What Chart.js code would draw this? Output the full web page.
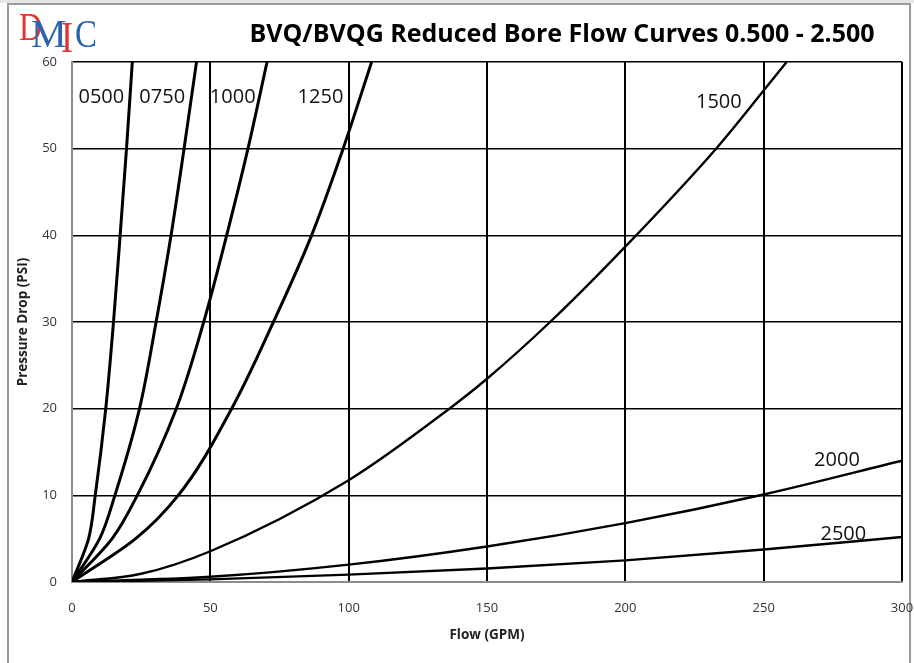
<!DOCTYPE html>
<html>
<head>
<meta charset="utf-8">
<title>BVQ/BVQG Reduced Bore Flow Curves</title>
<script src="https://cdn.jsdelivr.net/npm/chart.js@4.4.1/dist/chart.umd.min.js"></script>
<style>
  html, body { margin: 0; padding: 0; background: #fff; }
  #wrap { width: 914px; height: 663px; }
</style>
</head>
<body>
<div id="wrap"><canvas id="flowChart" width="914" height="663"></canvas></div>
<script>
// Valve sizes (curve names)
var sizes = ['0500', '0750', '1000', '1250', '1500', '2000', '2500'];

// Flow (GPM) and pressure drop (PSI), one pair per size
var flow0500 = [0, 6.0, 8.4, 12.2, 15.0, 17.4, 19.7, 21.8];
var psi0500  = [0, 5, 10, 20, 30, 40, 50, 60];

var flow0750 = [0, 10.0, 15.5, 24.4, 30.4, 35.8, 40.5, 45.0];
var psi0750  = [0, 5, 10, 20, 30, 40, 50, 60];

var flow1000 = [0, 14.5, 23.6, 37.7, 47.6, 55.9, 63.6, 70.5];
var psi1000  = [0, 5, 10, 20, 30, 40, 50, 60];

var flow1250 = [0, 23.0, 38.4, 57.7, 72.8, 86.6, 98.0, 108.3];
var psi1250  = [0, 5, 10, 20, 30, 40, 50, 60];

var flow1500 = [0, 25, 50, 100, 136.4, 150, 172.8, 200, 232.8, 250, 258.3];
var psi1500  = [0, 0.95, 3.55, 11.75, 20, 23.45, 30, 38.7, 50, 56.7, 60];

var flow2000 = [0, 50, 100, 150, 200, 250, 300];
var psi2000  = [0, 0.6, 2.0, 4.1, 6.8, 10.1, 14.0];

var flow2500 = [0, 50, 100, 150, 200, 250, 300];
var psi2500  = [0, 0.3, 0.85, 1.55, 2.5, 3.75, 5.2];

// Axis ticks
var xTicks = [0, 50, 100, 150, 200, 250, 300];
var yTicks = [0, 10, 20, 30, 40, 50, 60];

var flows = [flow0500, flow0750, flow1000, flow1250, flow1500, flow2000, flow2500];
var psis  = [psi0500, psi0750, psi1000, psi1250, psi1500, psi2000, psi2500];

// where each size name sits (in chart units)
var labelSpots = [[10.6, 55.9], [32.6, 55.9], [58.1, 55.9], [89.8, 55.9], [233.8, 55.4], [276.5, 14.1], [278.8, 5.5]];

function pairs(xs, ys) {
    var out = [];
    for (var i = 0; i < xs.length; i++) out.push({x: xs[i], y: ys[i]});
    return out;
}

// steep curves are smoothed along the pressure axis, flat ones along flow
var datasets = sizes.map(function(name, i) {
    return {
        label: name,
        data: pairs(flows[i], psis[i]),
        indexAxis: i < 4 ? 'y' : 'x',
        borderColor: '#000',
        borderWidth: i < 4 ? 3 : 2.4,
        pointRadius: 0,
        pointHoverRadius: 0,
        cubicInterpolationMode: 'monotone',
        fill: false
    };
});

var decorations = {
    id: 'decorations',
    beforeDraw: function(chart) {
        var ctx = chart.ctx;
        ctx.save();
        ctx.fillStyle = '#fff';
        ctx.fillRect(0, 0, chart.width, chart.height);
        // faint band on top + frame
        ctx.fillStyle = '#e6e6e6';
        ctx.fillRect(0, 0, chart.width, 3);
        ctx.strokeStyle = '#9a9a9a';
        ctx.lineWidth = 2;
        ctx.beginPath();
        ctx.moveTo(8, chart.height);
        ctx.lineTo(8, 4);
        ctx.lineTo(910, 4);
        ctx.lineTo(910, chart.height);
        ctx.stroke();
        ctx.restore();
    },
    afterDatasetsDraw: function(chart) {
        var ctx = chart.ctx;
        var xs = chart.scales.x, ys = chart.scales.y;
        ctx.save();
        ctx.font = '20px "Open Sans"';
        ctx.fillStyle = '#111';
        ctx.textAlign = 'center';
        ctx.textBaseline = 'middle';
        sizes.forEach(function(name, i) {
            ctx.fillText(name, xs.getPixelForValue(labelSpots[i][0]), ys.getPixelForValue(labelSpots[i][1]));
        });
        ctx.restore();
    },
    afterDraw: function(chart) {
        var ctx = chart.ctx;
        ctx.save();
        // title
        ctx.font = 'bold 25px "Open Sans"';
        ctx.fillStyle = '#000';
        ctx.textAlign = 'center';
        ctx.textBaseline = 'alphabetic';
        ctx.fillText('BVQ/BVQG Reduced Bore Flow Curves 0.500 - 2.500', 562, 42, 630);
        // logo
        ctx.textAlign = 'left';
        ctx.font = '40px "Liberation Serif"';
        ctx.fillStyle = '#e2352f';
        ctx.fillText('D', 19, 40, 23);
        ctx.fillStyle = '#2a63b0';
        ctx.fillText('M', 31, 47, 42);
        ctx.fillStyle = '#e2352f';
        ctx.font = '44px "Liberation Serif"';
        ctx.fillText('I', 61, 52, 12);
        ctx.fillStyle = '#2a63b0';
        ctx.font = '40px "Liberation Serif"';
        ctx.fillText('C', 75, 47, 22);
        ctx.restore();
    }
};

var flowChart = new Chart(document.getElementById('flowChart'), {
    type: 'line',
    data: { datasets: datasets },
    options: {
        responsive: false,
        animation: false,
        layout: { padding: { left: 0, right: 12, top: 62, bottom: 0 } },
        plugins: {
            legend: { display: false },
            tooltip: { enabled: false }
        },
        scales: {
            x: {
                type: 'linear',
                min: 0,
                max: 300,
                afterBuildTicks: function(scale) {
                    scale.ticks = xTicks.map(function(v) { return {value: v}; });
                },
                afterFit: function(scale) {
                    scale.height = 81;
                    scale.paddingRight = 11; // let "300" hang past the plot edge
                },
                ticks: { padding: 18, color: '#333', font: { family: 'Open Sans', size: 13 } },
                grid: { color: '#000', lineWidth: 2, drawTicks: false },
                border: { color: '#8c8c8c', width: 2 },
                title: {
                    display: true,
                    text: 'Flow (GPM)',
                    color: '#222',
                    font: { family: 'Open Sans', size: 13.5, weight: 'bold' },
                    padding: { top: 0, bottom: 20 }
                }
            },
            y: {
                type: 'linear',
                min: 0,
                max: 60,
                afterBuildTicks: function(scale) {
                    scale.ticks = yTicks.map(function(v) { return {value: v}; });
                },
                afterFit: function(scale) { scale.width = 72; },
                ticks: { padding: 15, color: '#333', font: { family: 'Open Sans', size: 13 } },
                grid: { color: '#000', lineWidth: 1.6, drawTicks: false },
                border: { color: '#8c8c8c', width: 2 },
                title: {
                    display: true,
                    text: 'Pressure Drop (PSI)',
                    color: '#222',
                    font: { family: 'Open Sans', size: 13.5, weight: 'bold' },
                    padding: { top: 15, bottom: 0 }
                }
            }
        }
    },
    plugins: [decorations]
});
</script>
</body>
</html>
